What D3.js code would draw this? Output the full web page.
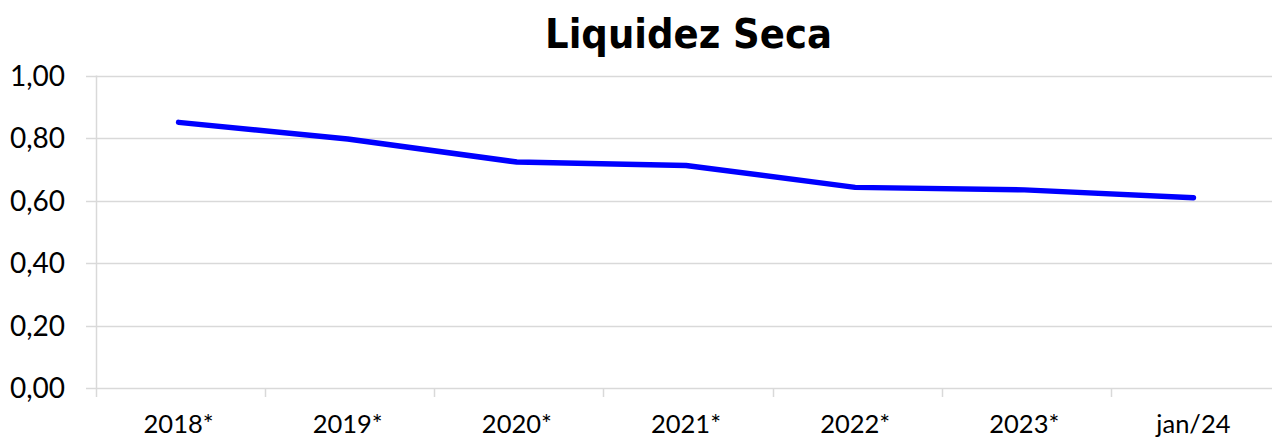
<!DOCTYPE html>
<html><head><meta charset="utf-8">
<script src="https://cdn.jsdelivr.net/npm/d3@7"></script>
<style>html,body{margin:0;padding:0;background:#fff;}svg{display:block;}</style>
</head><body>
<script>
const categories = ["2018*","2019*","2020*","2021*","2022*","2023*","jan/24"];
const values = [0.850,0.797,0.723,0.712,0.642,0.634,0.609];
const yTicks = [0,0.2,0.4,0.6,0.8,1.0];
const title = "Liquidez Seca";

const W = 1272, H = 437;
const svg = d3.select("body").append("svg").attr("width", W).attr("height", H);

const x = d3.scaleBand().domain(categories).range([96, 1280]).paddingInner(0).paddingOuter(0);
const y = d3.scaleLinear().domain([0, 1]).range([388, 75.5]);
const fmt = v => d3.format(".2f")(v).replace(".", ",");

// gridlines
svg.append("g").selectAll("line").data(yTicks).join("line")
  .attr("x1", 86).attr("x2", W)
  .attr("y1", d => Math.round(y(d)) + 0.5).attr("y2", d => Math.round(y(d)) + 0.5)
  .attr("stroke", "#d9d9d9").attr("stroke-width", 1.5);

// vertical axis line
svg.append("line").attr("x1", 96.5).attr("x2", 96.5)
  .attr("y1", y(1)).attr("y2", 397)
  .attr("stroke", "#d9d9d9").attr("stroke-width", 1.5);

// category boundary ticks
const bounds = categories.slice(1).map(c => x(c));
svg.append("g").selectAll("line").data(bounds).join("line")
  .attr("x1", d => Math.round(d) + 0.5).attr("x2", d => Math.round(d) + 0.5)
  .attr("y1", y(0)).attr("y2", 397)
  .attr("stroke", "#d9d9d9").attr("stroke-width", 1.5);

// y labels
svg.append("g").selectAll("text").data(yTicks).join("text")
  .attr("x", 65).attr("y", d => y(d)).attr("dy", "0.37em")
  .attr("text-anchor", "end")
  .style("font-family", "Lato, 'Open Sans', sans-serif").style("font-size", "28px").style("fill", "#000")
  .text(fmt);

// x labels
svg.append("g").selectAll("text").data(categories).join("text")
  .attr("x", d => x(d) + x.bandwidth() / 2 - 2).attr("y", 433)
  .attr("text-anchor", "middle")
  .style("font-family", "Lato, 'Open Sans', sans-serif").style("font-size", "25.5px").style("fill", "#000")
  .text(d => d);

// line
const line = d3.line().x((d, i) => x(categories[i]) + x.bandwidth() / 2 - 2).y(d => y(d));
svg.append("path").datum(values).attr("d", line)
  .attr("fill", "none").attr("stroke", "#0000ff").attr("stroke-width", 5.5)
  .attr("stroke-linecap", "round").attr("stroke-linejoin", "round");

// title
const t = svg.append("text").attr("x", 688.5).attr("y", 48).attr("text-anchor", "middle")
  .style("font-family", "'DejaVu Sans Condensed', 'DejaVu Sans', sans-serif").style("font-weight", "bold")
  .style("font-stretch", "condensed")
  .style("font-size", "40px").style("fill", "#000").text(title);
const tw = t.node().getComputedTextLength();
t.style("font-size", (40 * 287 / tw).toFixed(2) + "px");
</script>
</body></html>
